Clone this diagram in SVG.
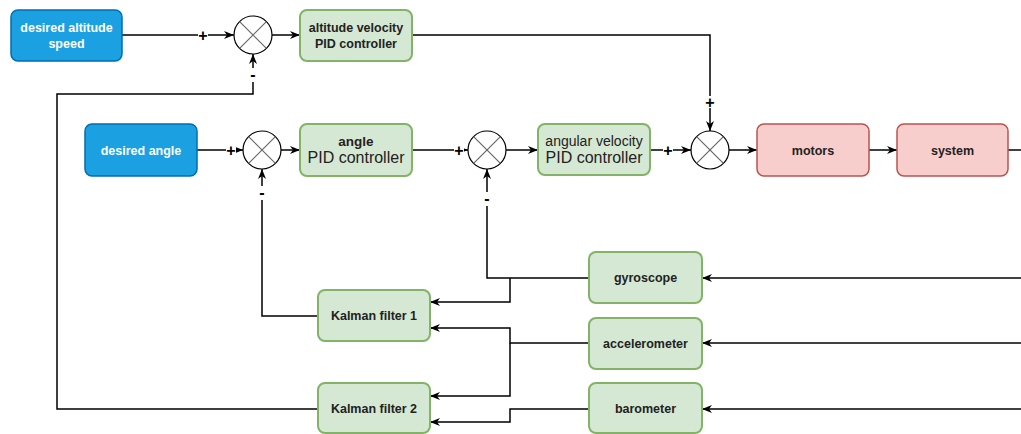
<svg xmlns="http://www.w3.org/2000/svg" width="1021" height="434" viewBox="0 0 1021 434">
<defs>
<marker id="arr" viewBox="0 0 10 10" refX="10" refY="5" markerWidth="10" markerHeight="10" markerUnits="userSpaceOnUse" orient="auto">
<path d="M0,1 L10,5 L0,9 L3,5 z" fill="#000"/>
</marker>
<style>
.blue{fill:#1ba1e2;stroke:#006eaf;stroke-width:1.5}
.green{fill:#d5e8d4;stroke:#82b366;stroke-width:2}
.red{fill:#f8cecc;stroke:#b85450;stroke-width:1.5}
.sum{fill:#fff;stroke:#000;stroke-width:1.2}
.x{stroke:#666;stroke-width:1.2}
.t{font-family:"Liberation Sans",Arial,sans-serif;font-size:12.5px;font-weight:bold;fill:#222;text-anchor:middle}
.tw{fill:#fff}
.tn{font-family:"Liberation Sans",Arial,sans-serif;fill:#222;text-anchor:middle}
.c{fill:none;stroke:#000;stroke-width:1.5}
.ca{fill:none;stroke:#000;stroke-width:1.5;marker-end:url(#arr)}
.lbl{font-family:"Liberation Sans",Arial,sans-serif;font-size:16px;font-weight:bold;fill:#000;text-anchor:middle}
</style>
</defs>
<rect width="1021" height="434" fill="#fff"/>

<g id="connectors">
<path class="ca" d="M122,35 H234"/>
<path class="ca" d="M272,35 H300"/>
<path class="ca" d="M412,35 H710 V131"/>
<path class="ca" d="M197,150 H243"/>
<path class="ca" d="M281,150 H300"/>
<path class="ca" d="M412,150 H468"/>
<path class="ca" d="M506,150 H538"/>
<path class="ca" d="M650,150 H691"/>
<path class="ca" d="M729,150 H757"/>
<path class="ca" d="M869,150 H897"/>
<path class="c" d="M1008,150 H1021"/>
<path class="ca" d="M1021,278 H702"/>
<path class="ca" d="M1021,343 H702"/>
<path class="ca" d="M1021,409 H702"/>
<path class="ca" d="M589,278 H487 V169"/>
<path class="ca" d="M510,278 V302 H430"/>
<path class="ca" d="M589,343 H510 V328 H430"/>
<path class="ca" d="M510,343 V396 H430"/>
<path class="ca" d="M589,409 H510 V422 H430"/>
<path class="ca" d="M318,316 H262 V169"/>
<path class="ca" d="M318,409 H57 V94 H253 V54"/>
<g id="signs">
<rect x="198" y="29" width="10" height="12" fill="#fff"/><text class="lbl" x="203" y="41">+</text>
<rect x="226" y="144" width="10" height="12" fill="#fff"/><text class="lbl" x="231" y="156">+</text>
<rect x="454" y="144" width="10" height="12" fill="#fff"/><text class="lbl" x="459" y="156">+</text>
<rect x="663" y="144" width="10" height="12" fill="#fff"/><text class="lbl" x="668" y="156">+</text>
<rect x="705" y="96" width="10" height="12" fill="#fff"/><text class="lbl" x="710" y="108">+</text>
<rect x="248" y="68" width="10" height="14" fill="#fff"/><text class="lbl" x="253" y="80">-</text>
<rect x="257" y="186" width="10" height="14" fill="#fff"/><text class="lbl" x="262" y="198">-</text>
<rect x="482" y="192" width="10" height="14" fill="#fff"/><text class="lbl" x="487" y="204">-</text>
</g>
</g>

<g id="desired-altitude-speed"><rect class="blue" x="11" y="10" width="111" height="51" rx="7"/><text class="t tw" x="66.5" y="32">desired altitude</text><text class="t tw" x="66.5" y="48">speed</text></g>
<g id="sum1"><circle class="sum" cx="253" cy="35" r="19"/><path class="x" d="M239.6,21.6 L266.4,48.4 M266.4,21.6 L239.6,48.4"/></g>
<g id="altitude-velocity-pid"><rect class="green" x="300" y="10" width="112" height="51" rx="7"/><text class="t" x="356" y="32">altitude velocity</text><text class="t" x="356" y="48">PID controller</text></g>

<g id="desired-angle"><rect class="blue" x="85" y="124" width="112" height="52" rx="7"/><text class="t tw" x="141" y="155">desired angle</text></g>
<g id="sum2"><circle class="sum" cx="262" cy="150" r="19"/><path class="x" d="M248.6,136.6 L275.4,163.4 M275.4,136.6 L248.6,163.4"/></g>
<g id="angle-pid"><rect class="green" x="300" y="124" width="112" height="52" rx="7"/><text class="tn" x="356" y="146" font-size="13.5" font-weight="bold">angle</text><text class="tn" x="356" y="163" font-size="16" font-weight="500">PID controller</text></g>
<g id="sum3"><circle class="sum" cx="487" cy="150" r="19"/><path class="x" d="M473.6,136.6 L500.4,163.4 M500.4,136.6 L473.6,163.4"/></g>
<g id="angular-velocity-pid"><rect class="green" x="538" y="124" width="112" height="51" rx="7"/><text class="tn" x="594" y="146" font-size="14">angular velocity</text><text class="tn" x="594" y="163" font-size="16">PID controller</text></g>
<g id="sum4"><circle class="sum" cx="710" cy="150" r="19"/><path class="x" d="M696.6,136.6 L723.4,163.4 M723.4,136.6 L696.6,163.4"/></g>
<g id="motors"><rect class="red" x="757" y="124" width="112" height="52" rx="7"/><text class="t" x="813" y="155">motors</text></g>
<g id="system"><rect class="red" x="897" y="124" width="111" height="52" rx="7"/><text class="t" x="952.5" y="155">system</text></g>

<g id="gyroscope"><rect class="green" x="589" y="252" width="113" height="51" rx="7"/><text class="t" x="645.5" y="282">gyroscope</text></g>
<g id="accelerometer"><rect class="green" x="589" y="318" width="113" height="51" rx="7"/><text class="t" x="645.5" y="348">accelerometer</text></g>
<g id="barometer"><rect class="green" x="589" y="383" width="113" height="50" rx="7"/><text class="t" x="645.5" y="413">barometer</text></g>
<g id="kalman-filter-1"><rect class="green" x="318" y="290" width="112" height="51" rx="7"/><text class="t" x="374" y="320">Kalman filter 1</text></g>
<g id="kalman-filter-2"><rect class="green" x="318" y="383" width="112" height="50" rx="7"/><text class="t" x="374" y="413">Kalman filter 2</text></g>
</svg>
